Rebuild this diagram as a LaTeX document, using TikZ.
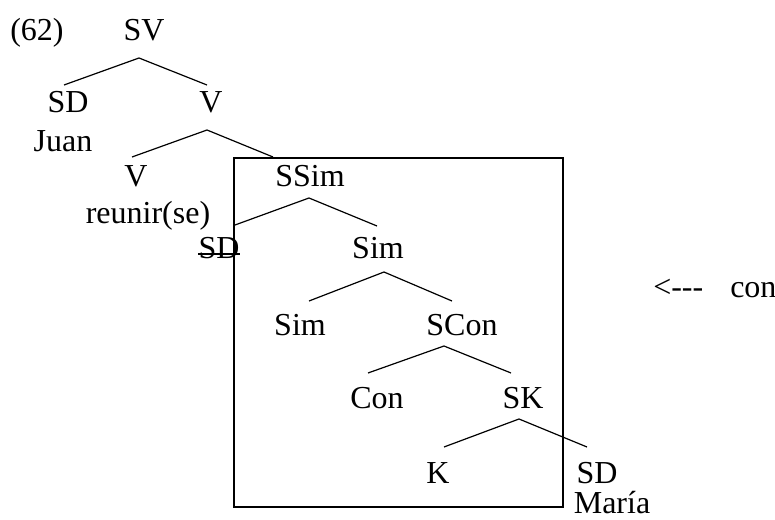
\documentclass[tikz,border=0pt]{standalone}
\usepackage{fontspec}
\setmainfont{Liberation Serif}
\begin{document}
\begin{tikzpicture}[x=0.75pt,y=-0.75pt,
  lbl/.style={anchor=base,inner sep=0pt,font=\fontsize{24}{28}\selectfont},
  lblw/.style={anchor=base west,inner sep=0pt,font=\fontsize{24}{28}\selectfont},
  branch/.style={line width=0.9pt},
  boxline/.style={line width=1.9pt}]
\useasboundingbox (0,0) rectangle (775,520);
% box
\draw[boxline] (234,158) rectangle (563,507);
% labels
\node[lblw] (ex) at (10,41) {(62)};
\node[lbl] (sv) at (144,41) {SV};
\node[lbl] (sd1) at (68,113) {SD};
\node[lbl] (juan) at (63,152) {Juan};
\node[lbl] (v1) at (211,113) {V};
\node[lbl] (v2) at (136,187) {V};
\node[lbl] (reunir) at (148,224) {reunir(se)};
\node[lbl] (ssim) at (310,187) {SSim};
\node[lbl] (sdx) at (219,259) {SD};
\draw[line width=1.2pt] ([yshift=3.6pt]sdx.base west) -- ([yshift=3.6pt]sdx.base east);
\node[lbl] (sim1) at (378,259) {Sim};
\node[lbl] (sim2) at (300,335) {Sim};
\node[lbl] (scon) at (462,335) {SCon};
\node[lbl] (con) at (377,408) {Con};
\node[lbl] (sk) at (523,408) {SK};
\node[lbl] (k) at (438,483) {K};
\node[lbl] (sd2) at (597,483) {SD};
\node[lbl] (maria) at (612,513) {María};
\node[lblw] (arr) at (653,298) {<-{}-{}-};
\node[lblw] (conw) at (730,298) {con};
% branch points
\coordinate (a1) at (139,58);  \coordinate (l1) at (64,85);   \coordinate (r1) at (207,85);
\coordinate (a2) at (207,130); \coordinate (l2) at (132,157); \coordinate (r2) at (273,157);
\coordinate (a3) at (309,198); \coordinate (l3) at (235,225); \coordinate (r3) at (377,226);
\coordinate (a4) at (384,272); \coordinate (l4) at (309,301); \coordinate (r4) at (452,301);
\coordinate (a5) at (444,346); \coordinate (l5) at (368,373); \coordinate (r5) at (511,373);
\coordinate (a6) at (519,419); \coordinate (l6) at (444,447); \coordinate (r6) at (587,447);
\foreach \i in {1,...,6} {\draw[branch] (l\i) -- (a\i) -- (r\i);}
\end{tikzpicture}
\end{document}
